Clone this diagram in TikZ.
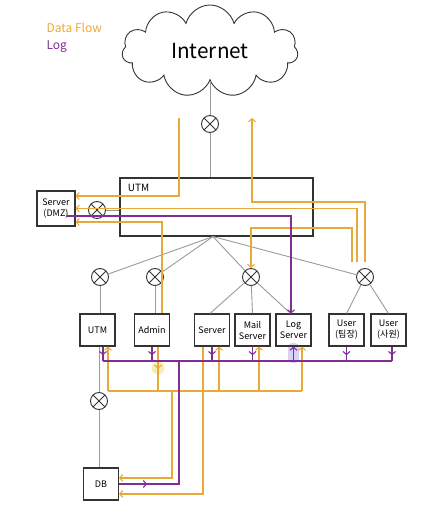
\documentclass[tikz,border=0pt]{standalone}
\usepackage{fontspec}
\newfontfamily\krfont{Noto Sans CJK KR}
\usetikzlibrary{shapes.symbols,arrows.meta,calc,decorations.markings}

\definecolor{flowc}{HTML}{E9A93A}
\definecolor{logc}{HTML}{7E2F93}
\definecolor{linkgray}{HTML}{9A9A9A}
\definecolor{edgec}{HTML}{333333}
\definecolor{hilog}{HTML}{D9D2F7}
\definecolor{hiflow}{HTML}{F7EDB5}

\tikzset{
  box/.style={draw=edgec, line width=1.1pt, minimum width=35pt, minimum height=32pt,
    inner sep=1pt, align=center, font=\krfont\small},
  sw/.style={circle, draw=edgec, line width=0.9pt, minimum size=17pt, inner sep=0pt,
    path picture={\draw[edgec, line width=0.9pt]
      (path picture bounding box.south west) -- (path picture bounding box.north east)
      (path picture bounding box.north west) -- (path picture bounding box.south east);}},
  link/.style={draw=linkgray, line width=0.9pt},
  flow/.style={draw=flowc, line width=1.1pt},
  logline/.style={draw=logc, line width=1.1pt},
  arr/.style={-{Straight Barb[length=3pt,width=7pt]}},
  midarr/.style={postaction={decorate}, decoration={markings,
    mark=at position #1 with {\arrow{Straight Barb[length=3pt,width=7pt]}}}}
}

\begin{document}
\begin{tikzpicture}[x=1pt,y=-1pt]
\useasboundingbox (0,0) rectangle (438,521);

% highlights
\fill[hilog, rounded corners=4pt] (288,343) rectangle (299,363);
\fill[hiflow] (158,368) circle (6.5);

% legend
\node[anchor=west, text=flowc, font=\krfont\large] (keyflow) at (43,28) {Data Flow};
\node[anchor=west, text=logc, font=\krfont\large] (keylog) at (43,47) {Log};

% internet
\node[cloud, cloud puffs=11, aspect=1.9, draw=edgec, line width=0.9pt,
  minimum width=176pt, minimum height=92pt, font=\krfont\huge] (inet) at (210,51) {Internet};

% switches
\node[sw] (swnet) at (210,124) {};
\node[sw] (swdmz) at (97,210) {};
\node[sw] (swa) at (100,277) {};
\node[sw] (swb) at (155,277) {};
\node[sw] (swc) at (251,277) {};
\node[sw] (swd) at (365,277) {};
\node[sw] (swdb) at (99,401) {};

% boxes
\node[box, minimum width=193pt, minimum height=58pt] (utm) at (216.5,207) {};
\node[anchor=north west, font=\krfont\normalsize] (utmlabel) at ($(utm.north west)+(5,3)$) {UTM};
\node[box, minimum width=38pt, minimum height=35pt] (dmz) at (56,208.5) {Server\\(DMZ)};
\node[box] (utm2) at (97.5,330) {UTM};
\node[box] (admin) at (152,330) {Admin};
\node[box] (srv) at (212,330) {Server};
\node[box] (mail) at (252.5,330) {Mail\\Server};
\node[box] (logsrv) at (293.5,330) {Log\\Server};
\node[box] (user1) at (346.5,330) {User\\(팀장)};
\node[box] (user2) at (388.5,330) {User\\(사원)};
\node[box] (db) at (101,484) {DB};

% links
\coordinate (hub) at ([xshift=-3.5pt]utm.south);
\draw[link] (inet.south) -- (swnet) -- (swnet |- utm.north);
\draw[link] (swdmz) -- (swdmz -| utm.west);
\draw[link] (hub) -- (swa);
\draw[link] (hub) -- (swb);
\draw[link] (hub) -- (swc);
\draw[link] (hub) -- (swd);
\draw[link] (swa) -- (swa |- utm2.north);
\draw[link] (swb) -- (swb |- admin.north);
\draw[link] (swc) -- ([xshift=-2pt]srv.north);
\draw[link] (swc) -- (mail.north);
\draw[link] (swc) -- ([xshift=-3pt]logsrv.north);
\draw[link] (swd) -- (user1.north);
\draw[link] (swd) -- (user2.north);
\draw[link] (utm2.south -| swdb) -- (swdb) -- (swdb |- db.north);

% data flow, top
\coordinate (netin) at (179,118);
\coordinate (netout) at (252,118);
\coordinate (ua) at (352,262);
\coordinate (ub) at (357,262);
\coordinate (uc) at (365,262);
\draw[flow,arr] (netin) |- ($(dmz.east)+(0,-12.5)$);
\draw[flow,arr] (ub) |- (dmz.east);
\draw[flow,arr] (uc) -- ++(0,-60) -| (netout);
\draw[flow,arr] (ua) -- ++(0,-34) -| (swc.north);
\draw[flow,arr] ([xshift=10pt]admin.north) |- ($(dmz.east)+(0,13.5)$);

% log, top
\draw[logline,arr] ($(dmz.center)+(11,7.5)$) -| ([xshift=-2.5pt]logsrv.north);

% data flow, bottom
\coordinate (ob1) at (108,391);
\coordinate (ob2) at (302,391);
\coordinate (odb) at (172,391);
\coordinate (adout) at ([xshift=6pt]admin.south);
\coordinate (srvin) at ([xshift=7pt]srv.south);
\coordinate (srvout) at ([xshift=-9pt]srv.south);
\coordinate (mailin) at ([xshift=6.5pt]mail.south);
\draw[flow] (ob1) -- (ob2);
\draw[flow,arr] (ob1) -- (ob1 |- utm2.south);
\draw[flow,midarr=0.5] (adout) -- (adout |- ob1);
\draw[flow,arr] (srvin |- ob1) -- (srvin);
\draw[flow,arr] (mailin |- ob1) -- (mailin);
\draw[flow,arr] (ob2) -- (ob2 |- logsrv.south);
\draw[flow,arr] (odb) |- ($(db.east)+(0,-6)$);
\draw[flow,arr] (srvout) |- ($(db.east)+(0,10)$);

% log, bottom
\coordinate (pb1) at (103,361);
\coordinate (pb2) at (392,361);
\coordinate (pdb) at (179,361);
\draw[logline] (pb1) -- (pb2);
\draw[logline,midarr=0.6] (pb1 |- utm2.south) -- (pb1);
\draw[logline,midarr=0.6] (admin.south) -- (admin.south |- pb1);
\draw[logline,midarr=0.6] (srv.south) -- (srv.south |- pb1);
\draw[logline,midarr=0.6] (mail.south) -- (mail.south |- pb1);
\draw[logline,midarr=0.6] (user1.south) -- (user1.south |- pb1);
\draw[logline,midarr=0.6] (pb2 |- user2.south) -- (pb2);
\draw[logline,arr] (logsrv.south |- pb1) -- (logsrv.south);
\draw[logline,midarr=28pt] (db.east) -| (pdb);

\end{tikzpicture}
\end{document}
